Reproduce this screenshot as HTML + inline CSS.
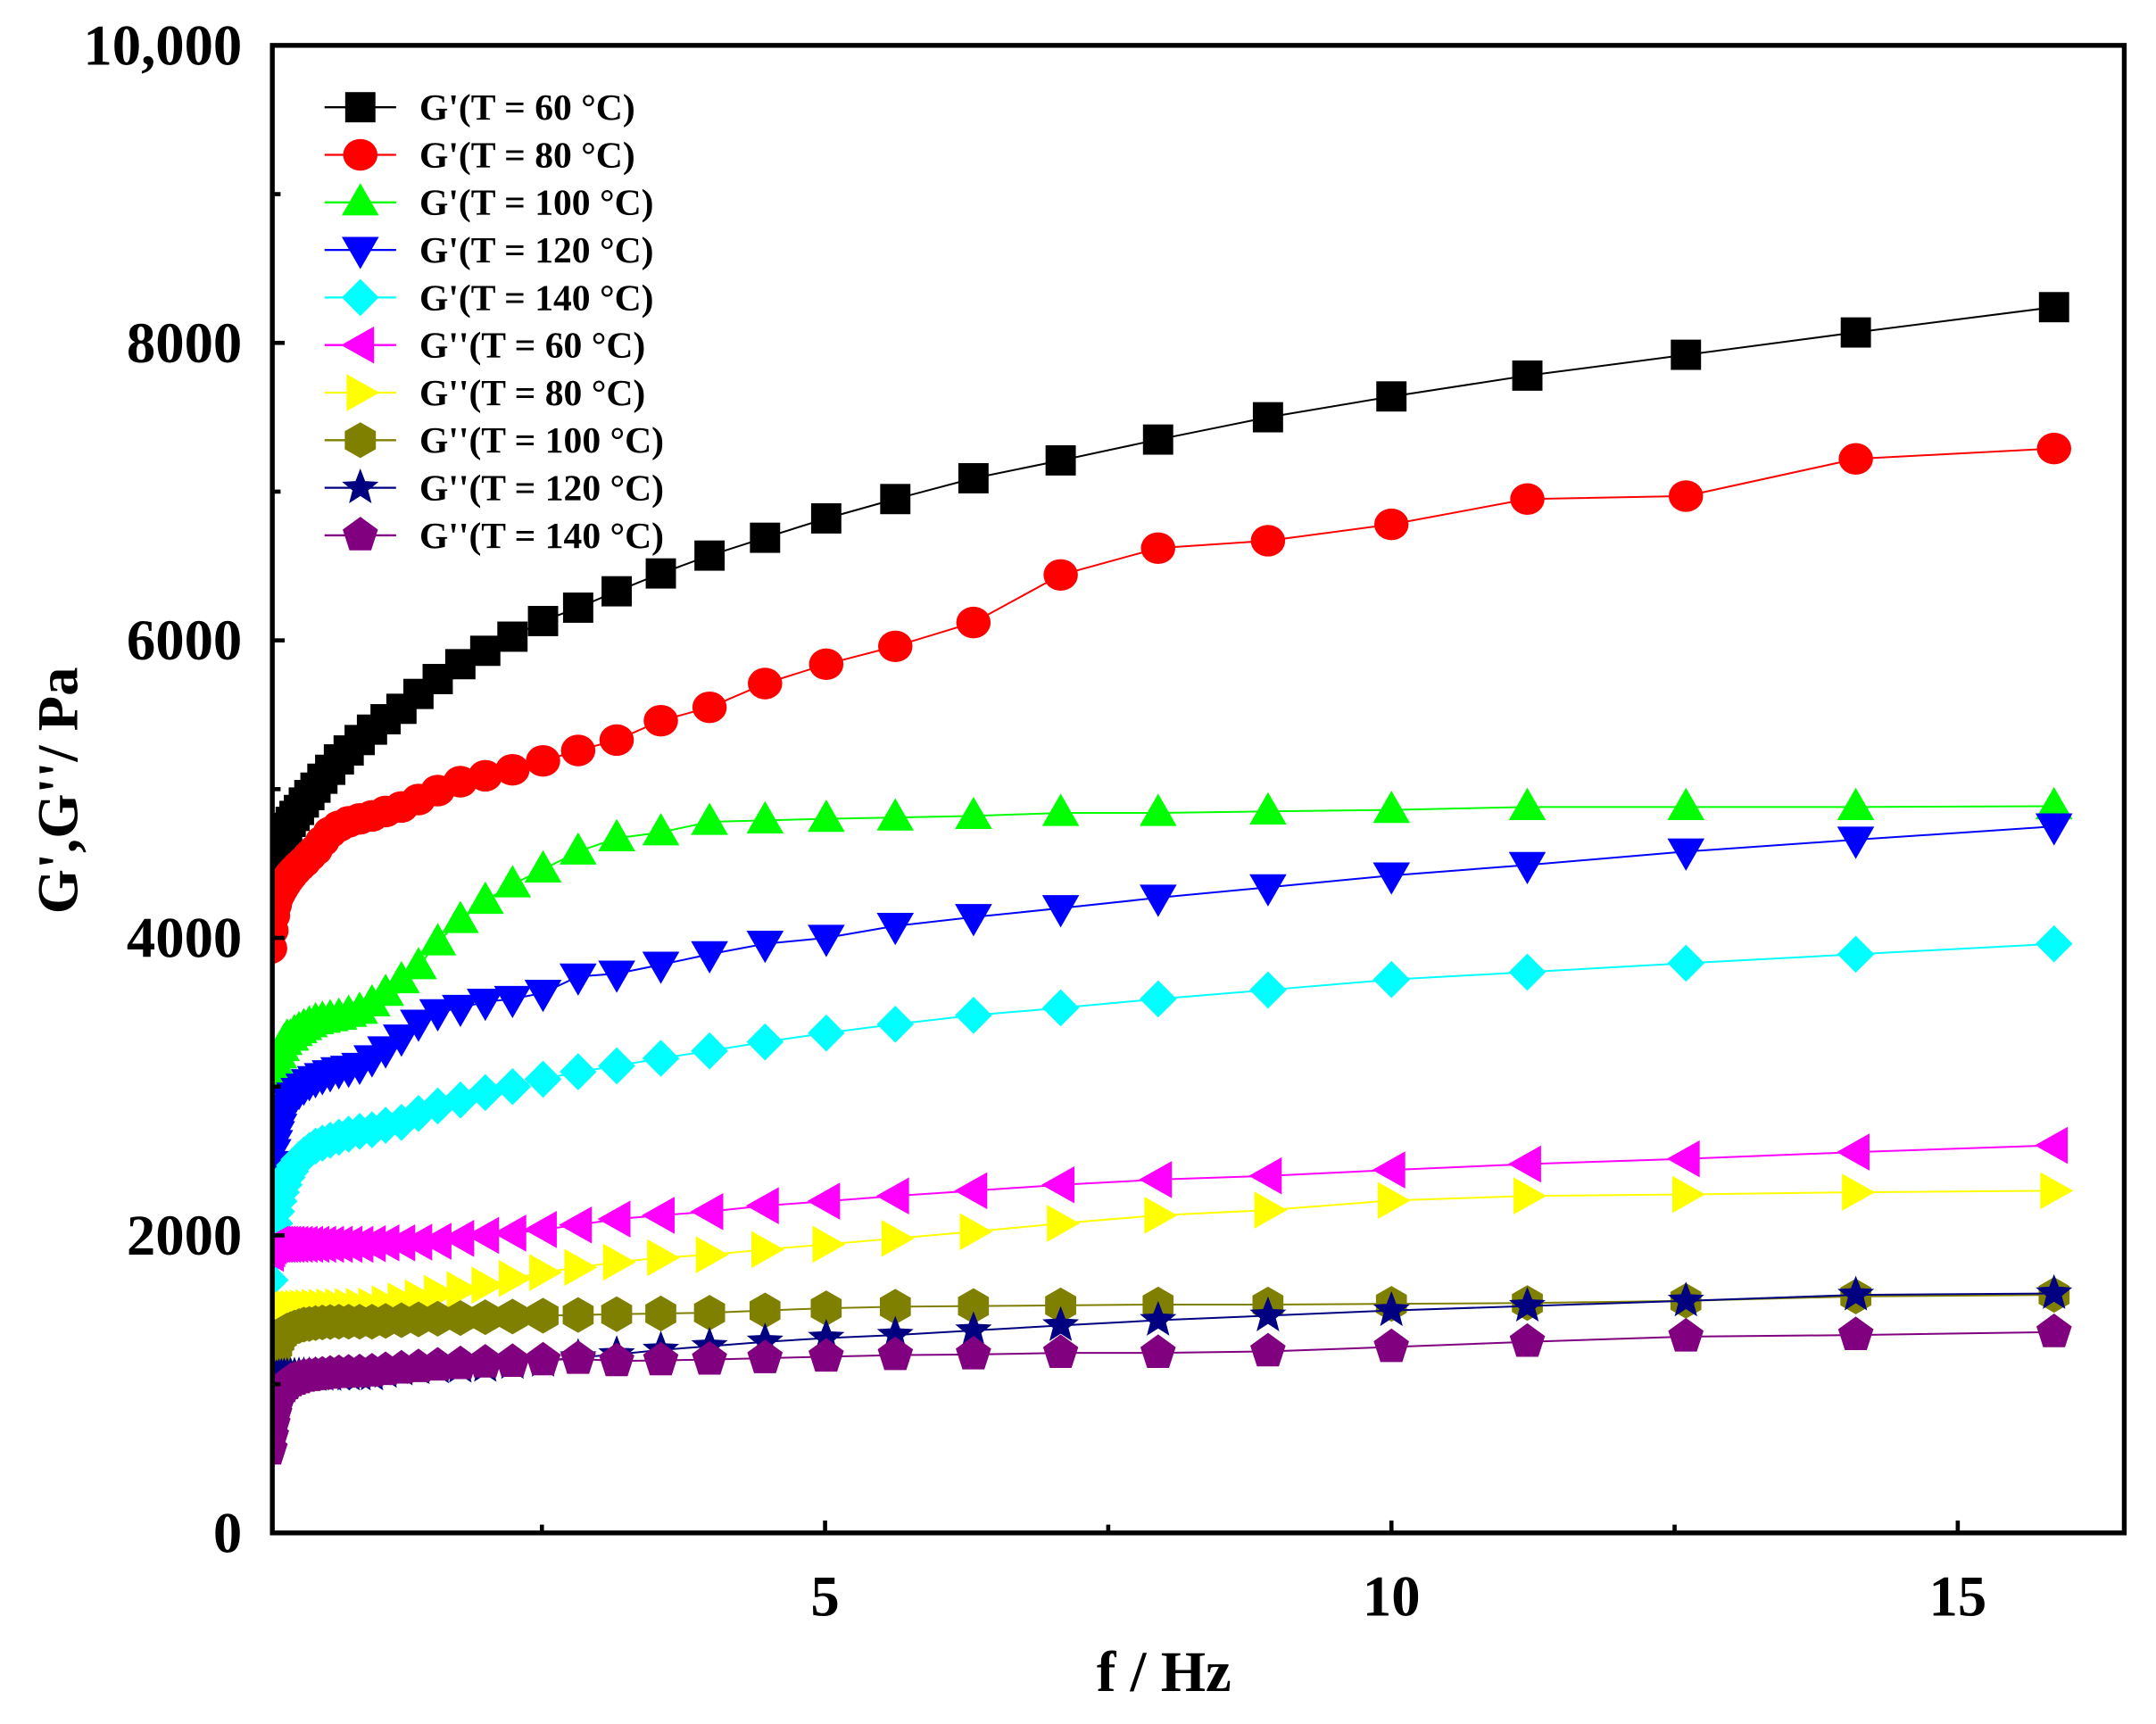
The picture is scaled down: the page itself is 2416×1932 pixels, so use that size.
<!DOCTYPE html>
<html><head><meta charset="utf-8"><style>
html,body{margin:0;padding:0;background:#fff}
svg{display:block}
text{font-family:"Liberation Serif",serif;font-weight:bold;fill:#000}
</style></head><body>
<svg id="chart" width="2416" height="1932" viewBox="0 0 1568 1254" xmlns="http://www.w3.org/2000/svg">
<g id="marks"></g>
<g id="axes"></g>
<g id="legend"></g>
</svg>
<script>
const freqs=[0.100,0.112,0.126,0.141,0.158,0.178,0.200,0.224,0.251,0.282,0.316,0.355,0.398,0.447,0.501,0.562,0.631,0.708,0.794,0.891,1.00,1.12,1.26,1.41,1.58,1.78,2.00,2.24,2.51,2.82,3.16,3.55,3.98,4.47,5.01,5.62,6.31,7.08,7.94,8.91,10.0,11.2,12.6,14.1,15.85];
const gp60=[4550,4570,4590,4610,4630,4650,4680,4710,4740,4780,4820,4860,4910,4960,5010,5070,5130,5200,5260,5330,5400,5470,5540,5640,5740,5840,5930,6025,6130,6220,6330,6450,6570,6690,6820,6950,7090,7210,7350,7500,7640,7780,7920,8070,8240];
const gp80=[3930,4050,4150,4220,4270,4300,4330,4360,4390,4420,4450,4480,4510,4550,4590,4650,4710,4750,4780,4800,4820,4850,4880,4930,4990,5050,5090,5130,5190,5260,5330,5460,5550,5710,5840,5960,6120,6440,6620,6670,6780,6950,6970,7220,7290];
const gp100=[2750,2900,3000,3080,3150,3210,3260,3300,3330,3330,3360,3380,3400,3420,3440,3450,3460,3470,3490,3510,3560,3630,3715,3810,3970,4120,4250,4360,4460,4580,4670,4710,4780,4790,4800,4810,4820,4840,4840,4850,4860,4880,4880,4880,4885];
const gp120=[2400,2480,2560,2620,2680,2730,2780,2820,2860,2900,2940,2970,3000,3030,3050,3070,3090,3110,3120,3140,3190,3250,3330,3430,3500,3530,3570,3590,3630,3740,3760,3820,3890,3960,4000,4080,4140,4200,4270,4340,4420,4490,4580,4660,4750];
const gp140=[1700,1850,1980,2080,2160,2230,2290,2340,2390,2430,2470,2510,2540,2570,2600,2620,2640,2660,2680,2700,2710,2740,2760,2820,2870,2910,2960,3000,3050,3100,3140,3190,3240,3300,3360,3420,3480,3530,3590,3650,3720,3770,3830,3890,3960];
const gpp60=[1880,1910,1930,1940,1940,1940,1940,1940,1940,1940,1940,1940,1940,1940,1940,1940,1940,1940,1940,1940,1945,1950,1950,1955,1960,1980,2000,2015,2040,2070,2110,2135,2160,2200,2230,2265,2300,2340,2375,2400,2440,2480,2515,2560,2605];
const gpp80=[1420,1450,1470,1480,1490,1495,1500,1502,1504,1506,1508,1510,1512,1514,1516,1518,1519,1520,1522,1523,1525,1540,1560,1580,1610,1635,1665,1710,1750,1785,1820,1850,1870,1905,1940,1980,2025,2080,2135,2170,2235,2265,2275,2290,2300];
const gpp100=[800,1000,1120,1200,1250,1290,1320,1340,1360,1370,1380,1390,1400,1405,1410,1415,1418,1420,1420,1420,1420,1425,1430,1435,1440,1445,1450,1455,1460,1465,1470,1475,1480,1495,1510,1520,1525,1530,1535,1535,1540,1545,1560,1590,1600];
const gpp120=[1000,1020,1030,1035,1040,1045,1048,1050,1052,1054,1055,1056,1057,1058,1059,1060,1060,1061,1062,1062,1063,1080,1095,1105,1110,1115,1120,1140,1155,1180,1200,1230,1255,1285,1310,1330,1360,1395,1430,1460,1495,1525,1560,1600,1610];
const gpp140=[560,650,730,800,860,910,950,980,1000,1020,1030,1040,1050,1055,1060,1065,1070,1075,1078,1080,1085,1095,1105,1115,1125,1135,1145,1150,1160,1170,1155,1160,1165,1175,1185,1195,1200,1210,1210,1220,1250,1285,1320,1330,1350];
const seriesNames=["G'(T = 60 °C)","G'(T = 80 °C)","G'(T = 100 °C)","G'(T = 120 °C)","G'(T = 140 °C)","G''(T = 60 °C)","G''(T = 80 °C)","G''(T = 100 °C)","G''(T = 120 °C)","G''(T = 140 °C)"];
const seriesValues=[gp60,gp80,gp100,gp120,gp140,gpp60,gpp80,gpp100,gpp120,gpp140];
const colors=["#000000","#ff0000","#00ff00","#0000ff","#00ffff","#ff00ff","#ffff00","#808000","#000080","#800080"];
const shapes=["square","circle","up","down","diamond","left","right","hexagon","star","pentagon"];
const xTickValues=[5,10,15];
const xMinorValues=[2.5,7.5,12.5];
const yTickValues=[0,2000,4000,6000,8000,10000];
const yTickLabels=["0","2000","4000","6000","8000","10,000"];
const yMinorValues=[1000,3000,5000,7000,9000];

const NS="http://www.w3.org/2000/svg";
const L=198,R=1545,T=33,B=1115;
const X0=0.12,X1=16.47,Y0=0,Y1=10000;
function xs(v){return L+(v-X0)/(X1-X0)*(R-L);}
function ys(v){return B-(v-Y0)/(Y1-Y0)*(B-T);}
function mk(tag,attrs,parent){const e=document.createElementNS(NS,tag);for(const k in attrs)e.setAttribute(k,attrs[k]);parent.appendChild(e);return e;}
function pts(arr){return arr.map(p=>p[0].toFixed(1)+","+p[1].toFixed(1)).join(" ");}
function marker(shape,cx,cy,col,parent){
  let e;
  if(shape==="square")e=mk("rect",{x:cx-11,y:cy-11,width:22,height:22},parent);
  else if(shape==="circle")e=mk("ellipse",{cx:cx,cy:cy,rx:12.5,ry:11.5},parent);
  else{
    let p=[];
    if(shape==="up")p=[[cx,cy-14],[cx+13.5,cy+9.5],[cx-13.5,cy+9.5]];
    else if(shape==="down")p=[[cx,cy+14],[cx+13.5,cy-9.5],[cx-13.5,cy-9.5]];
    else if(shape==="left")p=[[cx-14,cy],[cx+10,cy-13.5],[cx+10,cy+13.5]];
    else if(shape==="right")p=[[cx+14,cy],[cx-10,cy-13.5],[cx-10,cy+13.5]];
    else if(shape==="diamond")p=[[cx,cy-13.5],[cx+13.5,cy],[cx,cy+13.5],[cx-13.5,cy]];
    else if(shape==="hexagon"){for(let i=0;i<6;i++){const a=-Math.PI/2+i*Math.PI/3;p.push([cx+13*Math.cos(a),cy+13*Math.sin(a)]);}}
    else if(shape==="pentagon"){for(let i=0;i<5;i++){const a=-Math.PI/2+i*2*Math.PI/5;p.push([cx+13.5*Math.cos(a),cy+13.5*Math.sin(a)]);}}
    else if(shape==="star"){for(let i=0;i<10;i++){const a=-Math.PI/2+i*Math.PI/5;const rr=i%2?6:14;p.push([cx+rr*Math.cos(a),cy+rr*Math.sin(a)]);}}
    e=mk("polygon",{points:pts(p)},parent);
  }
  e.setAttribute("fill",col);
  return e;
}
const marks=document.getElementById("marks");
seriesValues.forEach((vals,si)=>{
  const g=mk("g",{},marks);
  
  
  const line=mk("polyline",{points:pts(freqs.map((f,i)=>[xs(f),ys(vals[i])])),fill:"none",stroke:colors[si],"stroke-width":1.3},g);
  
  
  freqs.forEach((f,i)=>{
    const m=marker(shapes[si],xs(f),ys(vals[i]),colors[si],g);
    
    
  });
});
const cover=mk("rect",{x:0,y:0,width:L-1,height:1254,fill:"#fff"},marks);



const axes=document.getElementById("axes");
const frame=mk("rect",{x:L,y:T,width:R-L,height:B-T,fill:"none",stroke:"#000","stroke-width":3.5},axes);


xTickValues.forEach((v,i)=>{
  const t=mk("line",{x1:xs(v),x2:xs(v),y1:B,y2:B-9,stroke:"#000","stroke-width":3},axes);
  
  
  const lb=mk("text",{x:xs(v),y:B+60,"font-size":42,"text-anchor":"middle"},axes);
  lb.textContent=String(v);
  
  
});
xMinorValues.forEach(v=>{
  const t=mk("line",{x1:xs(v),x2:xs(v),y1:B,y2:B-6,stroke:"#000","stroke-width":3},axes);
  
  
});
yTickValues.forEach((v,i)=>{
  const t=mk("line",{x1:L,x2:L+9,y1:ys(v),y2:ys(v),stroke:"#000","stroke-width":3},axes);
  
  
  const lb=mk("text",{x:L-22,y:ys(v)+14,"font-size":42,"text-anchor":"end"},axes);
  lb.textContent=yTickLabels[i];
  
  
});
yMinorValues.forEach(v=>{
  const t=mk("line",{x1:L,x2:L+6,y1:ys(v),y2:ys(v),stroke:"#000","stroke-width":3},axes);
  
  
});
const xt=mk("text",{x:(L+R)/2-25,y:1230,"font-size":42,"text-anchor":"middle"},axes);
xt.textContent="f / Hz";


const yt=mk("text",{x:0,y:0,"font-size":42,"text-anchor":"middle",transform:"translate(56,575) rotate(-90)"},axes);
yt.textContent="G',G''/ Pa";



const legend=document.getElementById("legend");
seriesNames.forEach((n,i)=>{
  const y=78+i*34.6;
  const g=mk("g",{},legend);
  
  
  mk("line",{x1:236,x2:288,y1:y,y2:y,stroke:colors[i],"stroke-width":1.5},g);
  marker(shapes[i],262,y,colors[i],g);
  const t=mk("text",{x:305,y:y+9,"font-size":27},g);
  t.textContent=n;
});
</script>
</body></html>
